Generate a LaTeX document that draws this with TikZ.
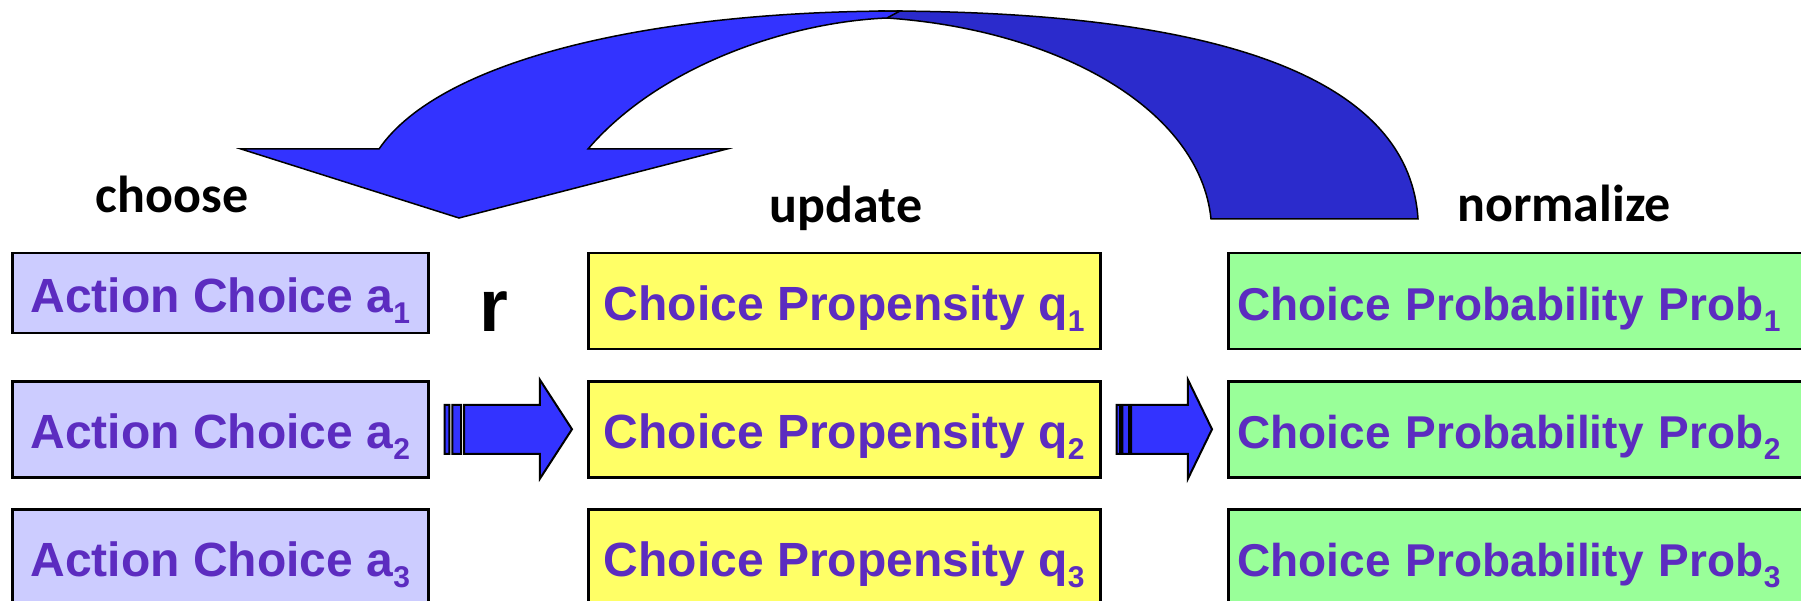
\documentclass[tikz,border=0pt]{standalone}
\usepackage{fontspec}
\setmainfont{Liberation Sans}
\newfontfamily\carlito{Carlito}
\usetikzlibrary{calc}

\definecolor{lavender}{RGB}{204,204,255}
\definecolor{paleyellow}{RGB}{255,255,102}
\definecolor{palegreen}{RGB}{153,255,153}
\definecolor{boxtext}{RGB}{92,44,192}
\definecolor{arrowblue}{RGB}{51,51,255}
\definecolor{darkblue}{RGB}{43,43,204}

% lowered index digit
\newcommand{\idx}[1]{\raisebox{-11pt}{\fontsize{30}{30}\selectfont #1}}

% striped block arrow between two boxes
\newcommand{\stripearrow}[2]{%
  \path[arrowface] let \p1=($(#1.east)+(15pt,0pt)$), \p2=($(#2.west)-(15pt,0pt)$),
    \n1={\x2-\x1} in
    (\x1,\y1-24.5pt) rectangle (\x1+0.038*\n1,\y1+24.5pt)
    (\x1+0.061*\n1,\y1-24.5pt) rectangle (\x1+0.131*\n1,\y1+24.5pt)
    (\x1+0.154*\n1,\y1-24.5pt) -- (\x2-0.252*\n1,\y1-24.5pt)
      -- (\x2-0.252*\n1,\y1-49.5pt) -- (\x2,\y1) -- (\x2-0.252*\n1,\y1+49.5pt)
      -- (\x2-0.252*\n1,\y1+24.5pt) -- (\x1+0.154*\n1,\y1+24.5pt) -- cycle;}

\begin{document}
\begin{tikzpicture}[
  x=1pt, y=-1pt,
  box/.style={draw, line width=2.5pt, anchor=north west, text=boxtext,
    font=\fontsize{48}{58}\selectfont\bfseries,
    text height=50pt, text depth=12pt, inner ysep=0pt, minimum height=96pt},
  choicebox/.style={box, fill=lavender, minimum width=416pt},
  propbox/.style={box, fill=paleyellow, minimum width=512pt},
  probbox/.style={box, fill=palegreen, font=\fontsize{46}{56}\selectfont\bfseries,
    text width=580pt, align=left, inner xsep=9pt},
  lbl/.style={font=\carlito\fontsize{52}{60}\selectfont\bfseries, anchor=base},
  arrowface/.style={draw, line width=2pt, fill=arrowblue},
  frontface/.style={draw, line width=1.5pt, fill=arrowblue},
  backface/.style={draw, line width=1.5pt, fill=darkblue}]
\useasboundingbox (0,0) rectangle (1801,601);

%% feedback arrow, back part first
\path[backface] (880,11) .. controls (1250,11) and (1410,90) .. (1418,219)
  -- (1211,219) .. controls (1200,110) and (1060,30) .. (887,18) -- cycle;
\path[frontface] (379,149) -- (241,149) -- (459,218) -- (727,149) -- (588,149)
  .. controls (660,65) and (790,22) .. (887,18) -- (900,11)
  .. controls (650,11) and (440,60) .. (379,149) -- cycle;

\node[lbl] (choose) at (172,213) {choose};
\node[lbl] (update) at (846,223) {update};
\node[lbl] (normalize) at (1564,222) {normalize};

\node[choicebox, minimum height=80pt] (a1) at (11,252) {Action Choice a\idx{1}};
\node[choicebox] (a2) at (11,380) {Action Choice a\idx{2}};
\node[choicebox] (a3) at (11,508) {Action Choice a\idx{3}};

\node[propbox] (q1) at (587,252) {Choice Propensity q\idx{1}};
\node[propbox] (q2) at (587,380) {Choice Propensity q\idx{2}};
\node[propbox] (q3) at (587,508) {Choice Propensity q\idx{3}};

\node[probbox] (p1) at (1227,252) {Choice Probability Prob\idx{1}};
\node[probbox] (p2) at (1227,380) {Choice Probability Prob\idx{2}};
\node[probbox] (p3) at (1227,508) {Choice Probability Prob\idx{3}};

\node[font=\fontsize{74}{80}\selectfont\bfseries, anchor=base] (r) at (494,332) {r};

\stripearrow{a2}{q2}
\stripearrow{q2}{p2}
\end{tikzpicture}
\end{document}
